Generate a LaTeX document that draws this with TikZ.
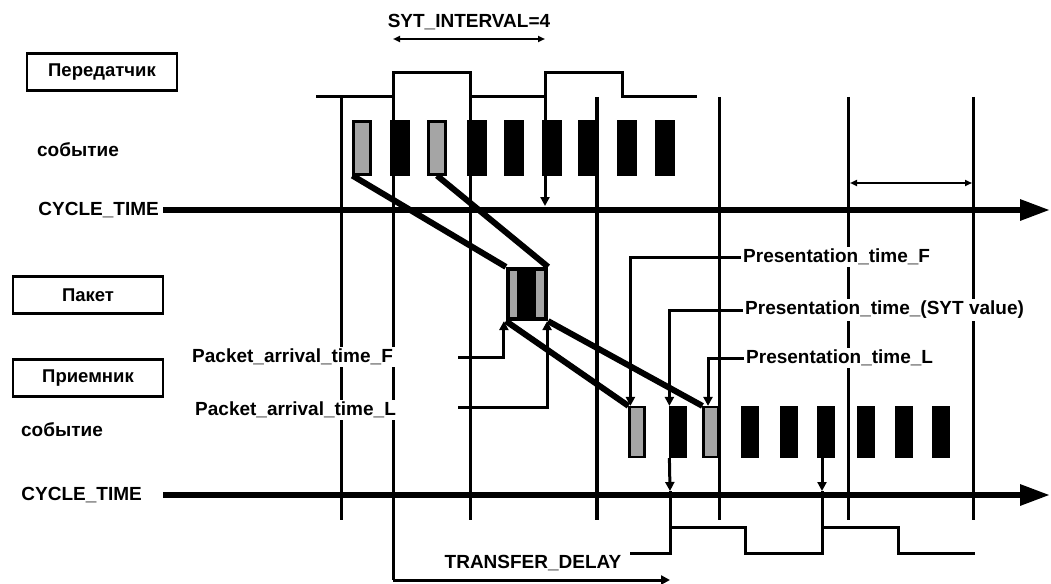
\documentclass[tikz,border=0pt]{standalone}
\usepackage{fontspec}
\setmainfont{Liberation Sans}
\usetikzlibrary{arrows.meta}
\definecolor{evgray}{RGB}{165,165,165}

\begin{document}
\begin{tikzpicture}[x=1pt, y=-1pt,
    txt/.style={font=\fontsize{19}{21}\selectfont\bfseries, inner sep=2pt},
    lbl/.style={txt, fill=white},
    hdr/.style={draw, line width=2.8pt, minimum width=150pt, minimum height=37pt,
                font=\fontsize{18.5}{20}\selectfont\bfseries},
    ev/.style={fill=black, draw=black, line width=2.2pt, minimum width=15pt,
               minimum height=50pt, inner sep=0pt},
    evg/.style={ev, fill=evgray},
    grid/.style={line width=3pt},
    wave/.style={line width=3pt},
    axis/.style={line width=6pt, -{Triangle[length=30pt,width=20pt]}},
    diag/.style={line width=6pt},
    lead/.style={line width=3pt, -{Triangle[length=9pt,width=9pt]}},
    dim/.style={line width=2.2pt, {Triangle[length=7pt,width=6pt]}-{Triangle[length=7pt,width=6pt]}}]
  \useasboundingbox (0,0) rectangle (1051,583);

  % left column
  \node[hdr] (tx) at (102,72) {Передатчик};
  \node[txt] (txev) at (78,150) {событие};
  \node[txt, anchor=east] (txct) at (161,210) {CYCLE\_TIME};
  \node[hdr] (pk) at (88,295) {Пакет};
  \node[hdr] (rx) at (88,378) {Приемник};
  \node[txt] (rxev) at (62,430) {событие};
  \node[txt, anchor=east] (rxct) at (144,495) {CYCLE\_TIME};

  % waveforms
  \draw[wave] (316,97) -| (393,73) -| (470,97) -| (545,73) -| (622,97) -- (697,97);
  \draw[wave] (630,553) -| (670,527) -| (745,553) -| (822,527) -| (898,553) -- (975,553);

  % time grid
  \foreach \x in {341,470,719,848,973} \draw[grid] (\x,97) -- (\x,520);
  \draw[grid, line width=4.5pt] (597,97) -- (597,520);
  \coordinate (td0) at (393,580);
  \coordinate (td1) at (670,580);
  \draw[grid] (393,97) -- (td0);
  \draw[lead] (545,97) -- (545,206);

  % axes
  \draw[axis] (txct.east) ++(2,0) -- (1050,210);
  \draw[axis] (163,495) -- (1050,495);

  % events
  \foreach \x/\s [count=\i from 0] in {362/evg,400/ev,437/evg,477/ev,514/ev,552/ev,588/ev,627/ev,665/ev}
    \node[\s, minimum width=17pt, minimum height=53pt] (t\i) at (\x,148) {};
  \foreach \x/\s [count=\i from 0] in {637/evg,678/ev,711/evg,750/ev,789/ev,826/ev,866/ev,904/ev,941/ev}
    \node[\s] (r\i) at (\x,432) {};

  % packet
  \node[ev, minimum width=40pt, minimum height=52pt] (p) at (527,294) {};
  \fill[evgray] (510,271) rectangle (517,317);
  \fill[evgray] (536,271) rectangle (544,317);

  % labels
  \node[txt] (syt) at (469,22) {SYT\_INTERVAL=4};
  \coordinate (syt0) at (393,39);
  \coordinate (syt1) at (545,39);
  \draw[dim] (syt0) -- (syt1);
  \coordinate (cy0) at (850,183);
  \coordinate (cy1) at (972,183);
  \draw[dim] (cy0) -- (cy1);

  \node[lbl, anchor=west] (pf) at (741,257) {Presentation\_time\_F};
  \node[lbl, anchor=west] (ps) at (743,310) {Presentation\_time\_(SYT value)};
  \node[lbl, anchor=west] (pl) at (744,358) {Presentation\_time\_L};
  \node[lbl, anchor=west] (paf) at (190,357) {Packet\_arrival\_time\_F};
  \node[lbl, anchor=west] (pal) at (193,410) {Packet\_arrival\_time\_L};
  \node[txt] (td) at (533,563) {TRANSFER\_DELAY};

  % leads
  \coordinate (paf0) at (458,357);
  \coordinate (pal0) at (458,407);
  \draw[lead] (paf0) -| ([xshift=-2pt]p.south west);
  \draw[lead] (pal0) -| ([xshift=-1pt]p.south east);
  \draw[lead] (pf.west) -| ([xshift=2pt]r0.north west);
  \draw[lead] (ps.west) -| (r1.north west);
  \draw[lead] (pl.west) -| ([xshift=-3pt]r2.north);
  \draw[lead] (r1.south west) -- (670,491);
  \draw[grid] (670,491) -- (670,527);
  \draw[lead] ([xshift=-4pt]r5.south) -- (822,491);
  \draw[grid] (822,491) -- (822,527);
  \draw[lead] (td0) -- (td1);

  % packet paths
  \draw[diag] (t0.south west) -- (p.north west);
  \draw[diag] (t2.south) -- (p.north east);
  \draw[diag] (p.south west) -- (r0.north west);
  \draw[diag] (p.south east) -- (r2.north west);
\end{tikzpicture}
\end{document}
